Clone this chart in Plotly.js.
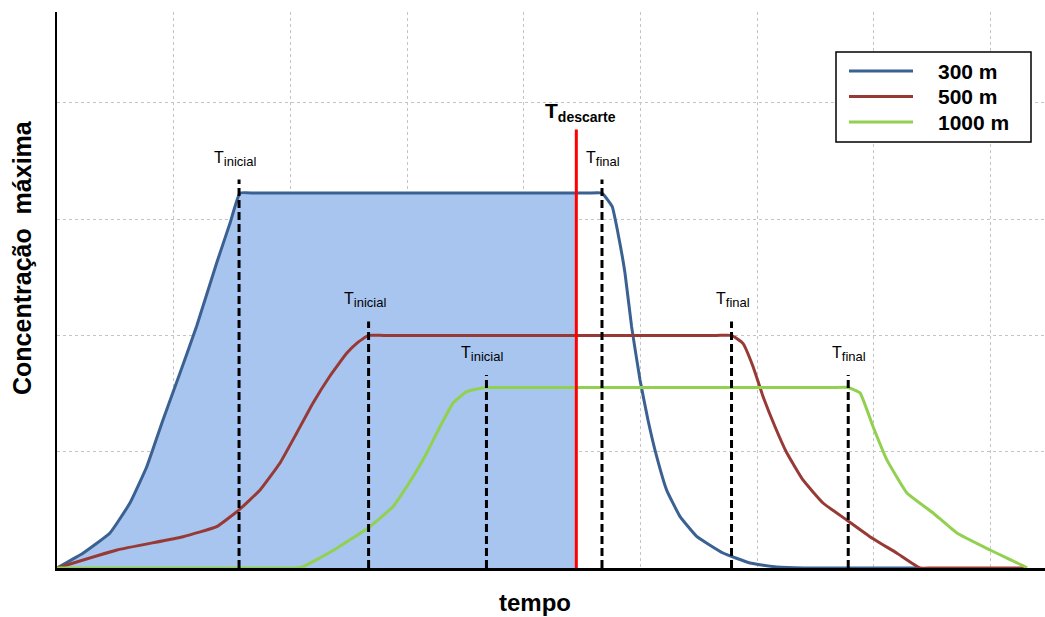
<!DOCTYPE html>
<html>
<head>
<meta charset="utf-8">
<script src="https://cdn.plot.ly/plotly-3.0.1.min.js"></script>
<style>html,body{margin:0;padding:0;background:#fff;}#chart{width:1045px;height:617px;}</style>
</head>
<body>
<div id="chart"></div>
<script>
// ---- data (axis units = grid cells) ----
const seriesNames = ['300 m', '500 m', '1000 m'];
const seriesColors = ['#3b6193', '#973a36', '#92d050'];

const blueT = [0, 0.225, 0.454, 0.625, 0.769, 0.908, 1.054, 1.197, 1.368, 1.483, 1.568, 1.70, 4.55, 4.67, 4.757, 4.807, 4.867, 4.924, 4.996, 5.064, 5.139, 5.224, 5.338, 5.481, 5.707, 5.938, 6.167, 6.40, 7.395];
const blueC = [0, 0.129, 0.301, 0.559, 0.871, 1.273, 1.677, 2.081, 2.623, 2.966, 3.224, 3.224, 3.224, 3.224, 3.109, 2.879, 2.536, 2.073, 1.617, 1.273, 0.957, 0.670, 0.444, 0.272, 0.129, 0.043, 0.009, 0, 0];

const redT = [0, 0.514, 1.080, 1.368, 1.56, 1.740, 1.911, 2.054, 2.194, 2.339, 2.482, 2.568, 2.668, 2.80, 5.65, 5.781, 5.878, 5.964, 6.050, 6.152, 6.253, 6.392, 6.564, 6.767, 6.966, 7.195, 7.395, 7.50, 8.312];
const redC = [0, 0.155, 0.269, 0.355, 0.50, 0.671, 0.903, 1.161, 1.419, 1.651, 1.846, 1.932, 2.0, 2.0, 2.0, 2.0, 1.931, 1.733, 1.475, 1.217, 0.991, 0.757, 0.559, 0.413, 0.269, 0.129, 0, 0, 0];

const greenT = [0, 1.95, 2.05, 2.108, 2.374, 2.665, 2.879, 3.051, 3.168, 3.282, 3.394, 3.511, 3.668, 3.80, 6.65, 6.778, 6.881, 6.992, 7.109, 7.281, 7.508, 7.711, 7.995, 8.295, 8.312];
const greenC = [0, 0, 0, 0.011, 0.155, 0.344, 0.527, 0.785, 0.989, 1.215, 1.419, 1.516, 1.552, 1.552, 1.552, 1.552, 1.506, 1.217, 0.934, 0.648, 0.473, 0.301, 0.155, 0.011, 0];

const tInicial = [1.56, 2.67, 3.68];
const tFinal = [4.67, 5.78, 6.78];
const markerTop = [3.34, 2.12, 1.66];
const tDescarte = 4.45;
const descarteTop = 3.77;

const xTitle = 'tempo';
const yTitle = 'Concentração&nbsp; máxima';
const labelInicial = 'T<sub><span style="font-size:13px">inicial</span></sub>';
const labelFinal = 'T<sub><span style="font-size:13px">final</span></sub>';
const labelDescarte = '<b>T<sub><span style="font-size:14px">descarte</span></sub></b>';

// ---- layout geometry (pixels) ----
const L = 57, R = 0, T = 12, B = 49, WIDTH = 1045, HEIGHT = 617;
const PW = WIDTH - L - R, PH = HEIGHT - T - B;
const px = v => (v - L) / PW;
const py = v => (HEIGHT - B - v) / PH;
const FONT = 'Liberation Sans, Arial, sans-serif';

// fill region: blue curve up to T_descarte
const fillT = [], fillC = [];
for (let i = 0; i < blueT.length; i++) {
  if (blueT[i] <= tDescarte) { fillT.push(blueT[i]); fillC.push(blueC[i]); }
  else {
    const t0 = blueT[i-1], t1 = blueT[i], c0 = blueC[i-1], c1 = blueC[i];
    fillT.push(tDescarte); fillC.push(c0 + (c1 - c0) * (tDescarte - t0) / (t1 - t0));
    break;
  }
}

const SM = 0.35;
const traces = [];
traces.push({x: fillT, y: fillC, type: 'scatter', mode: 'lines', fill: 'tozeroy',
  fillcolor: '#a8c5ef', line: {width: 0, color: '#a8c5ef', shape: 'spline', smoothing: SM}, hoverinfo: 'skip', showlegend: false});

const curves = [[blueT, blueC], [redT, redC], [greenT, greenC]];
curves.forEach((c, i) => {
  traces.push({x: c[0], y: c[1], type: 'scatter', mode: 'lines', name: seriesNames[i],
    line: {color: seriesColors[i], width: 3, shape: 'spline', smoothing: SM}, showlegend: false});
});

// dashed T markers
const dx = [], dy = [];
for (let i = 0; i < 3; i++) {
  [tInicial[i], tFinal[i]].forEach(t => { dx.push(t, t, null); dy.push(0, markerTop[i], null); });
}
traces.push({x: dx, y: dy, type: 'scatter', mode: 'lines', line: {color: '#000', width: 3, dash: '8px,4px'},
  hoverinfo: 'skip', showlegend: false});

traces.push({x: [tDescarte, tDescarte], y: [0, descarteTop], type: 'scatter', mode: 'lines',
  line: {color: '#ff0000', width: 3}, hoverinfo: 'skip', showlegend: false});

const annotations = [];
for (let i = 0; i < 3; i++) {
  annotations.push({x: tInicial[i], y: markerTop[i], xref: 'x', yref: 'y', text: labelInicial,
    showarrow: false, xanchor: 'center', yanchor: 'middle', yshift: 21, xshift: -4,
    font: {family: FONT, size: 16, color: '#000'}});
  annotations.push({x: tFinal[i], y: markerTop[i], xref: 'x', yref: 'y', text: labelFinal,
    showarrow: false, xanchor: 'center', yanchor: 'middle', yshift: 21, xshift: 1,
    font: {family: FONT, size: 16, color: '#000'}});
}
annotations.push({x: tDescarte, y: descarteTop, xref: 'x', yref: 'y', text: labelDescarte,
  showarrow: false, xanchor: 'center', yanchor: 'middle', yshift: 18, xshift: 4,
  font: {family: FONT, size: 21, color: '#000'}});

// axis titles
annotations.push({x: px(535), y: py(602), xref: 'paper', yref: 'paper', text: '<b>' + xTitle + '</b>',
  showarrow: false, xanchor: 'center', yanchor: 'middle', font: {family: FONT, size: 24, color: '#000'}});
annotations.push({x: px(22), y: py(258), xref: 'paper', yref: 'paper', text: '<b>' + yTitle + '</b>',
  textangle: -90, showarrow: false, xanchor: 'center', yanchor: 'middle', font: {family: FONT, size: 25, color: '#000'}});

// custom legend
const shapes = [];
shapes.push({type: 'rect', xref: 'paper', yref: 'paper', x0: px(836), x1: px(1031), y0: py(52), y1: py(142),
  line: {color: '#000', width: 1.5}, fillcolor: '#fff', layer: 'above'});
const rowY = [71, 96.5, 122];
seriesNames.forEach((n, i) => {
  shapes.push({type: 'line', xref: 'paper', yref: 'paper', x0: px(849), x1: px(913), y0: py(rowY[i]), y1: py(rowY[i]),
    line: {color: seriesColors[i], width: 3}, layer: 'above'});
  annotations.push({x: px(936), y: py(rowY[i]), xref: 'paper', yref: 'paper', text: '<b>' + n + '</b>',
    showarrow: false, xanchor: 'left', yanchor: 'middle', font: {family: FONT, size: 21, color: '#000'}});
});

const layout = {
  width: WIDTH, height: HEIGHT,
  margin: {l: L, r: R, t: T, b: B, pad: 0},
  paper_bgcolor: '#fff', plot_bgcolor: '#fff',
  showlegend: false,
  xaxis: {range: [0, PW / 116.7], dtick: 1, tick0: 0, showticklabels: false, ticks: '',
    showgrid: true, gridcolor: '#c4c4c4', gridwidth: 1, griddash: '3px,3px', zeroline: false,
    showline: true, linecolor: '#000', linewidth: 3, fixedrange: true},
  yaxis: {range: [0, PH / 116.3], dtick: 1, tick0: 0, showticklabels: false, ticks: '',
    showgrid: true, gridcolor: '#c4c4c4', gridwidth: 1, griddash: '3px,3px', zeroline: false,
    showline: true, linecolor: '#000', linewidth: 2, fixedrange: true},
  annotations: annotations,
  shapes: shapes
};

Plotly.newPlot('chart', traces, layout, {displayModeBar: false, staticPlot: true});
</script>
</body>
</html>
